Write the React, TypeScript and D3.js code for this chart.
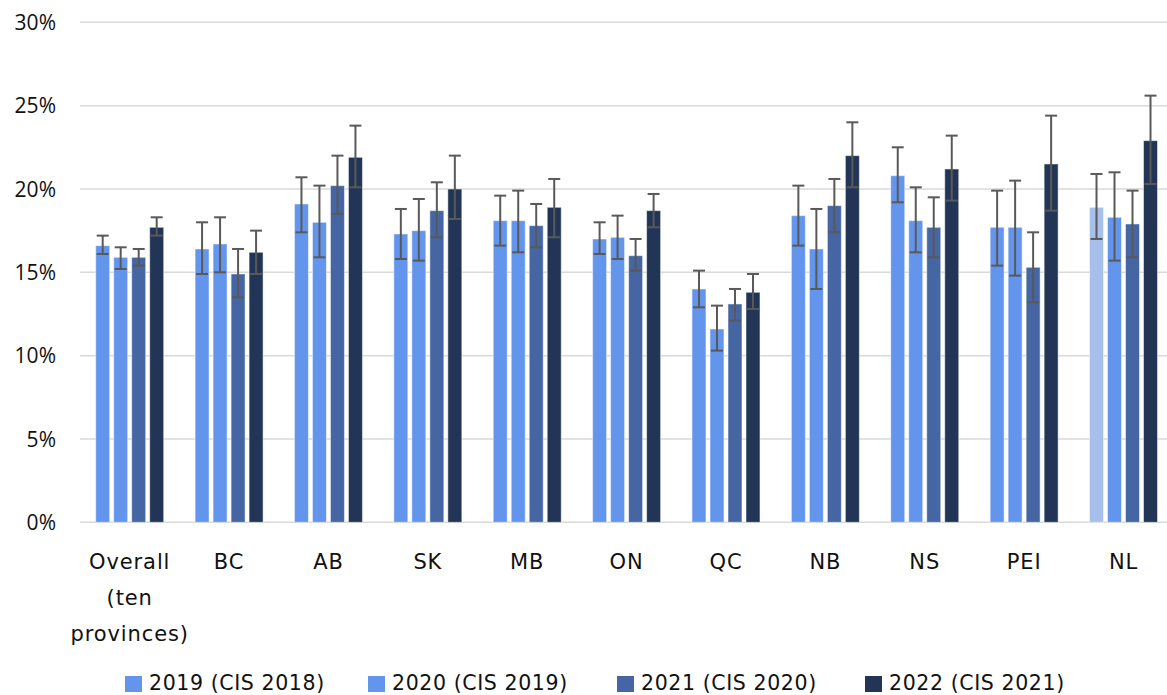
import React from "react";
import * as d3 from "d3";

const categories = ["Overall (ten provinces)", "BC", "AB", "SK", "MB", "ON", "QC", "NB", "NS", "PEI", "NL"];
const seriesNames = ["2019 (CIS 2018)", "2020 (CIS 2019)", "2021 (CIS 2020)", "2022 (CIS 2021)"];
const seriesColors = ["#6495ed", "#6495ed", "#4566a3", "#223556"];
const lightColor = "#a6c0eb";
const lightBars = [{ series: 0, category: "NL" }];

// values (%) per series, in category order
const v2019 = [16.6, 16.4, 19.1, 17.3, 18.1, 17.0, 14.0, 18.4, 20.8, 17.7, 18.9];
const v2020 = [15.9, 16.7, 18.0, 17.5, 18.1, 17.1, 11.6, 16.4, 18.1, 17.7, 18.3];
const v2021 = [15.9, 14.9, 20.2, 18.7, 17.8, 16.0, 13.1, 19.0, 17.7, 15.3, 17.9];
const v2022 = [17.7, 16.2, 21.9, 20.0, 18.9, 18.7, 13.8, 22.0, 21.2, 21.5, 22.9];

// error bar bounds
const lo2019 = [16.1, 14.9, 17.4, 15.8, 16.6, 16.1, 12.9, 16.6, 19.2, 15.4, 17.0];
const hi2019 = [17.2, 18.0, 20.7, 18.8, 19.6, 18.0, 15.1, 20.2, 22.5, 19.9, 20.9];
const lo2020 = [15.2, 15.0, 15.9, 15.7, 16.2, 15.8, 10.3, 14.0, 16.2, 14.8, 15.7];
const hi2020 = [16.5, 18.3, 20.2, 19.4, 19.9, 18.4, 13.0, 18.8, 20.1, 20.5, 21.0];
const lo2021 = [15.4, 13.5, 18.5, 17.1, 16.5, 15.1, 12.1, 17.4, 15.9, 13.2, 15.9];
const hi2021 = [16.4, 16.4, 22.0, 20.4, 19.1, 17.0, 14.0, 20.6, 19.5, 17.4, 19.9];
const lo2022 = [17.2, 14.9, 20.1, 18.2, 17.1, 17.7, 12.8, 20.1, 19.3, 18.7, 20.3];
const hi2022 = [18.3, 17.5, 23.8, 22.0, 20.6, 19.7, 14.9, 24.0, 23.2, 24.4, 25.6];

const yTicks = [0, 5, 10, 15, 20, 25, 30];

const values = [v2019, v2020, v2021, v2022];
const lows = [lo2019, lo2020, lo2021, lo2022];
const highs = [hi2019, hi2020, hi2021, hi2022];

export default function App() {
  const W = 1167;
  const H = 695;
  const plotLeft = 80;
  const plotRight = 1173.2;
  const gridRight = 1167;

  const y = d3.scaleLinear().domain([0, 30]).range([522.3, 22.3]);
  const x0 = d3.scaleBand<string>().domain(categories).range([plotLeft, plotRight]).paddingInner(0).paddingOuter(0);
  const groupW = 68;
  const x1 = d3.scaleBand<string>().domain(seriesNames).range([0, groupW]).paddingInner(4 / 18).paddingOuter(0);
  const bw = x1.bandwidth();
  const capW = 12;

  const labelFont = "'DejaVu Sans', sans-serif";

  const legendX = [125, 368, 617, 865];

  return (
    <svg width={W} height={H} style={{ position: "absolute", left: 0, top: 0, background: "#fff" }}>
      {yTicks.map((t) => (
        <g key={t}>
          <line x1={plotLeft} x2={gridRight} y1={y(t)} y2={y(t)} stroke="#d9d9d9" strokeWidth={1.5} />
          <text x={56} y={y(t)} dy="0.36em" textAnchor="end" fontFamily="'Open Sans', sans-serif" fontSize={21} fill="#111">
            {t}%
          </text>
        </g>
      ))}
      {categories.map((c, ci) => {
        const gx = (x0(c) as number) + (x0.bandwidth() - groupW) / 2;
        return (
          <g key={c}>
            {seriesNames.map((s, si) => {
              const v = values[si][ci];
              const isLight = lightBars.some((b) => b.series === si && b.category === c);
              const bx = gx + (x1(s) as number);
              return (
                <rect
                  key={s}
                  x={bx}
                  y={y(v)}
                  width={bw}
                  height={y(0) - y(v)}
                  fill={isLight ? lightColor : seriesColors[si]}
                  stroke="rgba(255,255,255,0.5)"
                  strokeWidth={1}
                />
              );
            })}
            {seriesNames.map((s, si) => {
              const cx = gx + (x1(s) as number) + bw / 2;
              const lo = lows[si][ci];
              const hi = highs[si][ci];
              return (
                <g key={"e" + s} stroke="#595959" strokeWidth={2}>
                  <line x1={cx} x2={cx} y1={y(hi)} y2={y(lo)} />
                  <line x1={cx - capW / 2} x2={cx + capW / 2} y1={y(hi)} y2={y(hi)} />
                  <line x1={cx - capW / 2} x2={cx + capW / 2} y1={y(lo)} y2={y(lo)} />
                </g>
              );
            })}
          </g>
        );
      })}
      {categories.map((c) => {
        const cx = (x0(c) as number) + x0.bandwidth() / 2;
        const lines = c === "Overall (ten provinces)" ? ["Overall", "(ten", "provinces)"] : [c];
        return (
          <text key={"l" + c} x={cx} y={569} textAnchor="middle" fontFamily={labelFont} fontSize={21} letterSpacing={0.9} fill="#111">
            {lines.map((ln, i) => (
              <tspan key={i} x={cx} y={569 + i * 36}>
                {ln}
              </tspan>
            ))}
          </text>
        );
      })}
      {seriesNames.map((s, si) => (
        <g key={"lg" + s}>
          <rect x={legendX[si]} y={676} width={17} height={16} fill={seriesColors[si]} />
          <text x={legendX[si] + 24} y={690} fontFamily={labelFont} fontSize={20.5} letterSpacing={0.6} fill="#111">
            {s}
          </text>
        </g>
      ))}
    </svg>
  );
}
